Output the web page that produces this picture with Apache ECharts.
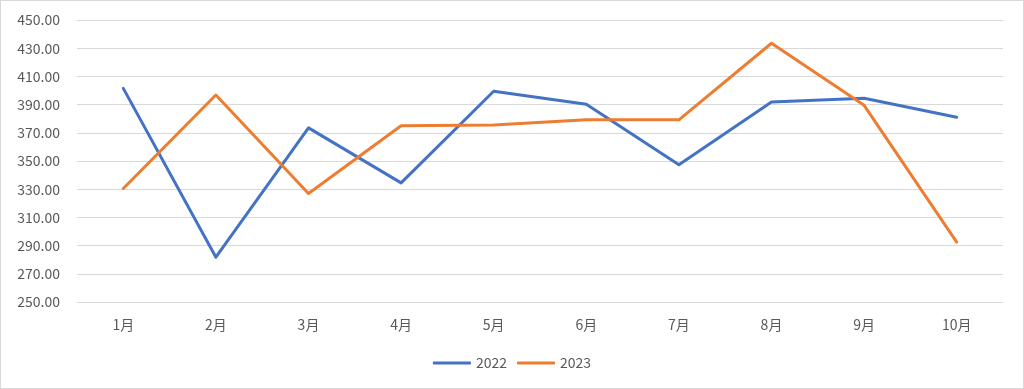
<!DOCTYPE html>
<html><head><meta charset="utf-8">
<script src="https://cdn.jsdelivr.net/npm/echarts@6/dist/echarts.min.js"></script>
<style>html,body{margin:0;padding:0;background:#fff}#c{width:1024px;height:389px;box-sizing:border-box;border:1px solid #d9d9d9}</style>
</head><body><div id="c"></div>
<script>
const categories = ['1月','2月','3月','4月','5月','6月','7月','8月','9月','10月'];
const s2022 = [401.5, 281.8, 373.5, 334.5, 399.5, 390.3, 347.3, 391.8, 394.5, 381.0];
const s2023 = [330.5, 396.8, 327.0, 375.0, 375.6, 379.2, 379.2, 433.5, 389.5, 292.5];
const chart = echarts.init(document.getElementById('c'));
const font = '"Noto Sans CJK SC", "Liberation Sans", sans-serif';
chart.setOption({
  animation: false,
  color: ['#4472C4', '#ED7D31'],
  grid: {left: 76, right: 20, top: 19, bottom: 86},
  legend: {
    bottom: 13, left: 'center', itemWidth: 38, itemHeight: 3, itemGap: 10,
    icon: 'roundRect',
    textStyle: {color: '#595959', fontSize: 14, fontFamily: font},
    data: ['2022', '2023']
  },
  xAxis: {
    type: 'category', data: categories, boundaryGap: true,
    axisLine: {show: false}, axisTick: {show: false},
    axisLabel: {color: '#595959', fontSize: 14, fontFamily: font, margin: 16}
  },
  yAxis: {
    type: 'value', min: 250, max: 450, interval: 20,
    axisLabel: {color: '#595959', fontSize: 14, fontFamily: font, margin: 17,
      formatter: v => v.toFixed(2)},
    splitLine: {lineStyle: {color: '#d9d9d9', width: 1}},
    axisLine: {show: false}, axisTick: {show: false}
  },
  series: [
    {name: '2022', type: 'line', data: s2022, symbol: 'none', lineStyle: {width: 3, cap: 'round', join: 'round'}},
    {name: '2023', type: 'line', data: s2023, symbol: 'none', lineStyle: {width: 3, cap: 'round', join: 'round'}}
  ]
});
</script></body></html>
